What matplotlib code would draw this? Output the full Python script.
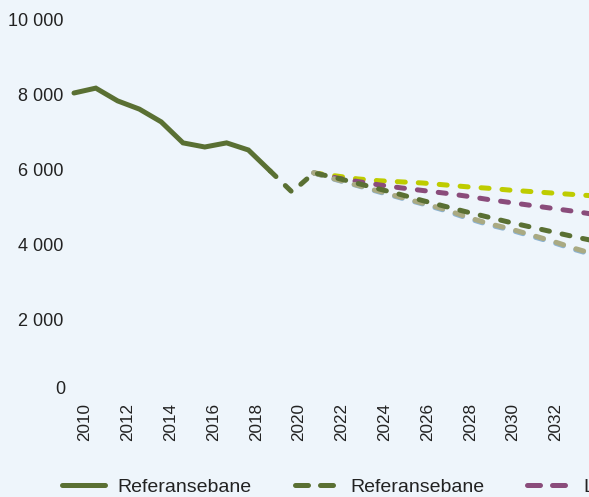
import matplotlib
matplotlib.use('Agg')
import matplotlib.pyplot as plt
from matplotlib.lines import Line2D

# historical (solid) values
hist_years = [2010, 2011, 2012, 2013, 2014, 2015, 2016, 2017, 2018, 2019]
hist_vals = [8040, 8170, 7830, 7610, 7270, 6710, 6600, 6710, 6520, 5960]

# reference path (dashed), continues from 2019
ref_years = list(range(2019, 2035))
ref_vals = [5960, 5400, 5910, 5780, 5630, 5480, 5330, 5170, 5020, 4870,
            4730, 4590, 4460, 4330, 4200, 4080]

proj_years = list(range(2021, 2035))
yellow_vals = [5910, 5830, 5750, 5700, 5670, 5640, 5590, 5540, 5500, 5450,
               5410, 5370, 5330, 5290]
purple_vals = [5910, 5780, 5680, 5590, 5510, 5440, 5370, 5290, 5200, 5120,
               5040, 4960, 4880, 4790]
tan_vals = [5910, 5740, 5580, 5420, 5260, 5100, 4940, 4740, 4560, 4420,
            4250, 4080, 3890, 3720]
blue_vals = [5910, 5730, 5570, 5400, 5240, 5080, 4910, 4710, 4530, 4390,
             4220, 4050, 3860, 3690]

xtick_years = list(range(2010, 2034, 2))
ytick_vals = [0, 2000, 4000, 6000, 8000, 10000]
legend_labels = ['Referansebane', 'Referansebane', 'Lavutslippsbane']

bg = '#EEF5FB'
dgreen = '#5A7033'
purple = '#8A4C7B'
yellow = '#BECC00'
tan = '#AAAA82'
lblue = '#8DB3D2'
txt = '#222222'

W, H = 589, 497
px_year = 21.8          # pixels per year for the data
fig = plt.figure(figsize=(W / 100, H / 100), dpi=100, facecolor=bg)
ax = fig.add_axes([70 / W, (H - 394.5) / H, (W - 70) / W, 375 / H])
ax.set_facecolor(bg)

lw = 3.6
dash = (1.6, 2.6)
kw = dict(lw=lw, dash_capstyle='round', solid_capstyle='round')

ax.plot(proj_years, yellow_vals, color=yellow, dashes=dash, **kw)
ax.plot(proj_years, purple_vals, color=purple, dashes=dash, **kw)
ax.plot(proj_years, blue_vals, color=lblue, dashes=dash, **kw)
ax.plot(proj_years, tan_vals, color=tan, dashes=dash, **kw)
ax.plot(ref_years, ref_vals, color=dgreen, dashes=dash, **kw)
ax.plot(hist_years, hist_vals, color=dgreen, solid_joinstyle='miter', **kw)

ax.set_xlim(2010 - 4 / px_year, 2010 + (W - 74) / px_year)
ax.set_ylim(0, 10000)

for s in ax.spines.values():
    s.set_visible(False)
ax.tick_params(length=0)

# the original's year labels sit slightly right of the points and a bit tighter
lab_px = [85 + 21.4 * (y - 2010) for y in xtick_years]
ax.set_xticks([2010 + (p - 74) / px_year for p in lab_px])
ax.set_xticklabels([str(y) for y in xtick_years], rotation=90,
                   family='Liberation Sans', fontsize=12.3, color=txt)
ax.tick_params(axis='x', pad=6)

ax.set_yticks(ytick_vals)
ax.set_yticklabels(['' if v == 0 else f'{v:,}'.replace(',', ' ') for v in ytick_vals],
                   family='Liberation Sans', fontsize=13, color=txt)
ax.tick_params(axis='y', pad=5)
ax.annotate('0', xy=(0, 0), xycoords=('axes fraction', 'data'),
            xytext=(-5, 5), textcoords='offset pixels', ha='right', va='center',
            family='Liberation Sans', fontsize=13, color=txt,
            annotation_clip=False)

handles = [
    Line2D([], [], color=dgreen, **kw),
    Line2D([], [], color=dgreen, dashes=(2.6, 2.4), **kw),
    Line2D([], [], color=purple, dashes=(2.6, 2.4), **kw),
]
fig.legend(handles, legend_labels, loc='center left',
           bbox_to_anchor=(62 / W, 1 - 487 / H), ncol=3, frameon=False,
           prop={'family': 'Liberation Sans', 'size': 14},
           handlelength=2.2, handletextpad=0.67, columnspacing=2.2,
           borderpad=0, borderaxespad=0, labelcolor=txt)

fig.savefig('out.png', dpi=100, facecolor=bg)
